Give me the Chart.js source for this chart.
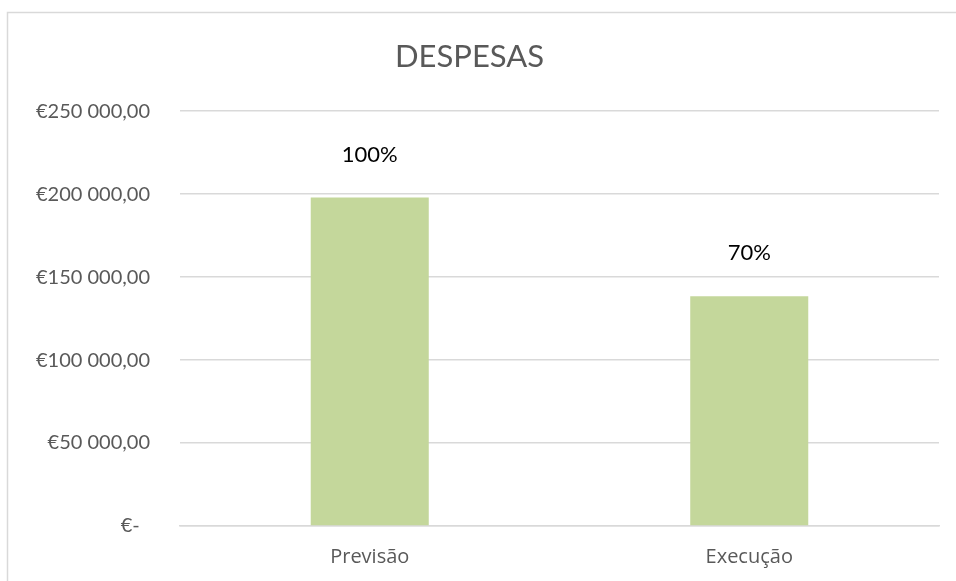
<!DOCTYPE html>
<html>
<head>
<meta charset="utf-8">
<script src="https://cdn.jsdelivr.net/npm/chart.js@4.4.0/dist/chart.umd.min.js"></script>
<style>
  html, body { margin: 0; padding: 0; background: #ffffff; overflow: hidden; }
  #wrap { position: absolute; left: 0; top: 0; width: 956px; height: 581px; }
</style>
</head>
<body>
<div id="wrap"><canvas id="c" width="956" height="581"></canvas></div>
<script>
const categories = ['Previsão', 'Execução'];
const values = [198000, 138500];
const percentLabels = ['100%', '70%'];
const yTickLabels = ['€-  ', '€50 000,00', '€100 000,00', '€150 000,00', '€200 000,00', '€250 000,00'];
const chartTitle = 'DESPESAS';

const framePlugin = {
  id: 'frame',
  beforeDraw(chart) {
    const ctx = chart.ctx;
    ctx.save();
    ctx.fillStyle = '#ffffff';
    ctx.fillRect(0, 0, chart.width, chart.height);
    ctx.strokeStyle = '#d9d9d9';
    ctx.lineWidth = 1.5;
    ctx.beginPath();
    ctx.moveTo(7.5, chart.height);
    ctx.lineTo(7.5, 12.5);
    ctx.lineTo(chart.width, 12.5);
    ctx.stroke();
    ctx.restore();
  }
};

const pctPlugin = {
  id: 'pctLabels',
  afterDatasetsDraw(chart) {
    const ctx = chart.ctx;
    const meta = chart.getDatasetMeta(0);
    ctx.save();
    ctx.font = '22px Lato, sans-serif';
    ctx.fillStyle = '#000000';
    ctx.textAlign = 'center';
    ctx.textBaseline = 'middle';
    meta.data.forEach((bar, i) => {
      ctx.fillText(percentLabels[i], bar.x, bar.y - 43);
    });
    ctx.restore();
  }
};

new Chart(document.getElementById('c'), {
  type: 'bar',
  data: {
    labels: categories,
    datasets: [{
      data: values,
      backgroundColor: '#c4d79b',
      borderWidth: 0,
      barPercentage: 1,
      categoryPercentage: 0.311
    }]
  },
  options: {
    responsive: false,
    animation: false,
    devicePixelRatio: 1,
    layout: { padding: { left: 0, right: 17, top: 0, bottom: 0 } },
    plugins: {
      legend: { display: false },
      tooltip: { enabled: false },
      title: {
        display: true,
        text: chartTitle,
        color: '#595959',
        font: { family: 'Lato, sans-serif', size: 31, weight: 'normal', lineHeight: 1.2 },
        padding: { top: 38, bottom: 36 }
      }
    },
    scales: {
      x: {
        grid: { display: false, drawTicks: false },
        border: { display: true, color: '#d9d9d9', width: 1.5 },
        ticks: {
          color: '#595959',
          font: { family: '"Open Sans", sans-serif', size: 20 },
          padding: 19
        },
        afterFit(scale) { scale.height = 55; }
      },
      y: {
        min: 0,
        max: 250000,
        grid: { color: '#d9d9d9', lineWidth: 1.5, drawTicks: false },
        border: { display: false },
        ticks: {
          stepSize: 50000,
          color: '#595959',
          font: { family: 'Lato, sans-serif', size: 20 },
          padding: 30,
          callback: (v, i) => yTickLabels[i]
        },
        afterFit(scale) { scale.width = 180; }
      }
    }
  },
  plugins: [framePlugin, pctPlugin]
});
</script>
</body>
</html>
